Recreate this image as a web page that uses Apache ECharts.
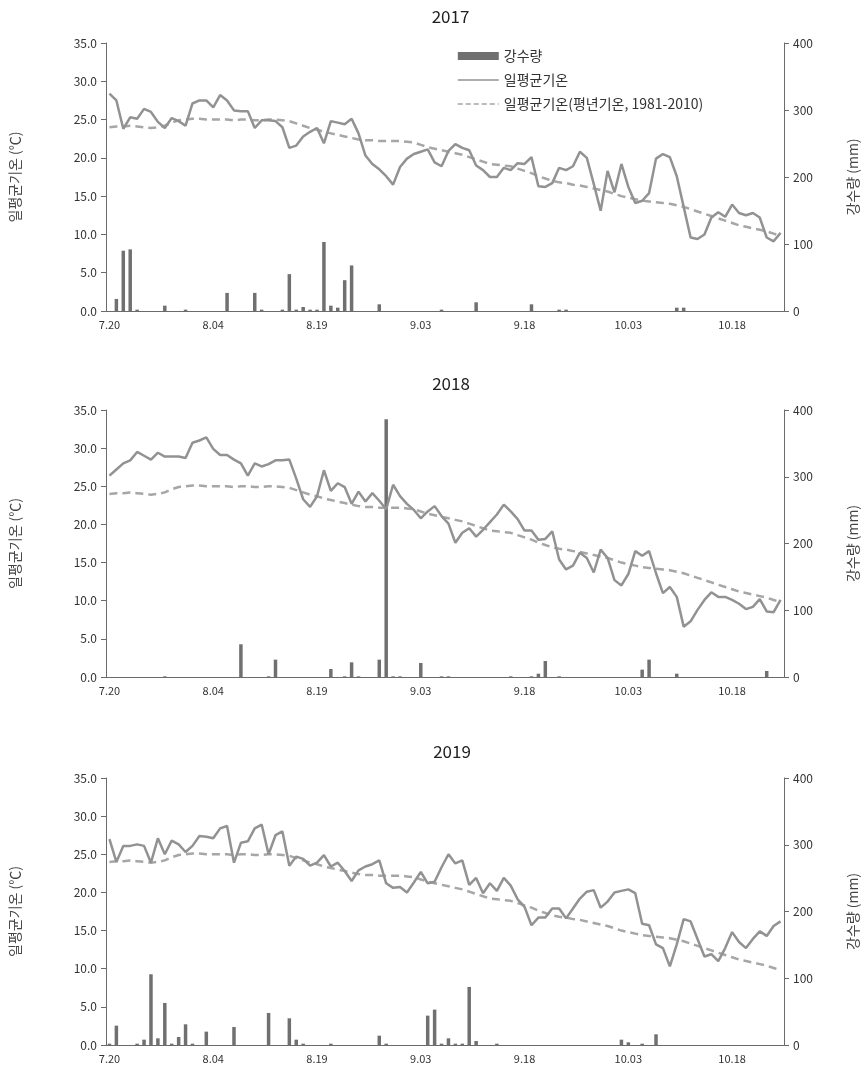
<!DOCTYPE html>
<html><head><meta charset="utf-8">
<script src="https://cdn.jsdelivr.net/npm/echarts@6/dist/echarts.min.js"></script>
<style>html,body{margin:0;padding:0;background:#fff}#c{width:868px;height:1072px}</style>
</head><body><div id="c"></div>
<script>
const dates = ['7.20','7.21','7.22','7.23','7.24','7.25','7.26','7.27','7.28','7.29','7.30','7.31',
'8.01','8.02','8.03','8.04','8.05','8.06','8.07','8.08','8.09','8.10','8.11','8.12','8.13','8.14','8.15','8.16','8.17','8.18','8.19','8.20','8.21','8.22','8.23','8.24','8.25','8.26','8.27','8.28','8.29','8.30','8.31',
'9.01','9.02','9.03','9.04','9.05','9.06','9.07','9.08','9.09','9.10','9.11','9.12','9.13','9.14','9.15','9.16','9.17','9.18','9.19','9.20','9.21','9.22','9.23','9.24','9.25','9.26','9.27','9.28','9.29','9.30',
'10.01','10.02','10.03','10.04','10.05','10.06','10.07','10.08','10.09','10.10','10.11','10.12','10.13','10.14','10.15','10.16','10.17','10.18','10.19','10.20','10.21','10.22','10.23','10.24','10.25'];

const years = ['2017','2018','2019'];
const leftTicks = [0,5,10,15,20,25,30,35];
const rightTicks = [0,100,200,300,400];

const normalTemp = [24.0,24.1,24.1,24.2,24.1,24.0,23.9,24.0,24.2,24.6,
24.9,25.0,25.1,25.1,25.0,25.0,25.0,25.0,24.9,25.0,
25.0,24.9,24.9,25.0,25.0,24.9,24.8,24.5,24.2,23.9,
23.7,23.4,23.2,23.0,22.8,22.6,22.4,22.3,22.3,22.2,
22.2,22.2,22.2,22.1,22.0,21.7,21.4,21.2,21.0,20.8,
20.6,20.4,20.1,19.8,19.5,19.2,19.1,19.0,18.9,18.6,
18.3,18.0,17.6,17.3,17.0,16.8,16.7,16.5,16.4,16.2,
16.0,15.8,15.6,15.3,15.0,14.8,14.6,14.4,14.3,14.2,
14.1,14.0,13.8,13.6,13.3,13.0,12.7,12.4,12.1,11.8,
11.5,11.2,11.0,10.8,10.6,10.4,10.1,9.8];

const temp2017 = [28.4,27.5,23.8,25.3,25.1,26.4,26.0,24.7,23.9,25.2,
24.8,24.2,27.1,27.5,27.5,26.6,28.2,27.5,26.2,26.1,
26.1,23.9,24.9,24.9,24.8,24.0,21.3,21.6,22.8,23.4,
23.9,21.9,24.8,24.6,24.4,25.1,23.2,20.3,19.2,18.5,
17.6,16.5,18.8,19.9,20.5,20.8,21.1,19.4,18.9,20.9,
21.8,21.3,21.0,19.0,18.4,17.5,17.5,18.7,18.4,19.3,
19.2,20.1,16.3,16.2,16.7,18.7,18.4,18.9,20.8,20.0,
16.6,13.1,18.3,15.5,19.2,16.2,14.1,14.4,15.4,19.9,
20.5,20.1,17.6,13.6,9.6,9.4,10.0,12.2,12.9,12.3,
13.9,12.8,12.5,12.8,12.2,9.6,9.1,10.2];

const temp2018 = [26.4,27.2,28.0,28.4,29.5,29.0,28.5,29.4,28.9,28.9,
28.9,28.7,30.7,31.0,31.4,29.9,29.1,29.1,28.5,28.0,
26.4,28.0,27.6,27.9,28.4,28.4,28.5,26.0,23.3,22.3,
23.7,27.1,24.4,25.4,24.9,22.7,24.3,23.0,24.1,23.1,
22.0,25.2,23.7,22.7,21.9,20.8,21.7,22.4,21.1,20.1,
17.6,18.9,19.5,18.4,19.3,20.3,21.3,22.6,21.7,20.7,
19.2,19.2,18.0,18.1,19.1,15.4,14.1,14.6,16.3,15.6,
13.7,16.7,15.6,12.7,12.0,13.5,16.5,15.9,16.5,13.6,
11.0,11.8,10.5,6.6,7.3,8.8,10.1,11.1,10.5,10.5,
10.1,9.6,8.9,9.2,10.2,8.6,8.5,10.1];

const temp2019 = [27.0,24.0,26.1,26.1,26.3,26.1,23.9,27.1,25.0,26.8,
26.3,25.3,26.1,27.4,27.3,27.1,28.4,28.7,23.9,26.5,
26.7,28.4,28.9,25.0,27.5,28.0,23.5,24.7,24.4,23.5,
23.9,24.9,23.4,23.9,22.8,21.5,22.9,23.4,23.7,24.2,
21.2,20.6,20.7,20.0,21.3,22.7,21.2,21.4,23.3,25.0,
23.8,24.2,21.0,21.9,19.9,21.2,20.2,21.9,20.9,19.1,
18.1,15.7,16.7,16.7,17.9,17.9,16.6,17.9,19.2,20.1,
20.3,18.0,18.8,20.0,20.2,20.4,19.9,15.9,15.7,13.2,
12.7,10.3,13.2,16.5,16.2,13.9,11.6,11.9,11.0,12.7,
14.8,13.5,12.7,13.9,14.9,14.3,15.6,16.2];

const rain2017 = [0,18,90,92,2,0,0,0,8,0,
0,2,0,0,0,0,0,27,0,0,
0,27,2,0,0,2,55,2,6,2,
2,103,8,5,46,68,0,0,0,10,
0,0,0,0,0,0,0,0,2,0,
0,0,0,13,0,0,0,0,0,0,
0,10,0,0,0,2,2,0,0,0,
0,0,0,0,0,0,0,0,0,0,
0,0,5,5,0,0,0,0,0,0,
0,0,0,0,0,0,0,0];

const rain2018 = [0,0,0,0,0,0,0,0,1,0,
0,0,0,0,0,0,0,0,0,49,
0,0,0,1,26,0,0,0,0,0,
0,0,12,0,1,22,1,0,0,26,
386,1,1,0,0,21,0,0,1,1,
0,0,0,0,0,0,0,0,1,0,
0,1,5,24,0,1,0,0,0,0,
0,0,0,0,0,0,0,11,26,0,
0,0,5,0,0,0,0,0,0,0,
0,0,0,0,0,9,0,0];

const rain2019 = [2,29,0,0,2,8,106,10,63,2,
12,31,2,0,20,0,0,0,27,0,
0,0,0,48,0,0,40,8,2,0,
0,0,2,0,0,0,0,0,0,14,
2,0,0,0,0,0,44,53,2,10,
2,2,87,6,0,0,2,0,0,0,
0,0,0,0,0,0,0,0,0,0,
0,0,0,0,8,4,0,2,0,16,
0,0,0,0,0,0,0,0,0,0,
0,0,0,0,0,0,0,0];

const temps = [temp2017, temp2018, temp2019];
const rains = [rain2017, rain2018, rain2019];

const FONT = '"Noto Sans CJK KR", "Noto Sans", sans-serif';
const AX = '#6b6b6b';
const LBL = '#333';
const NAME_BAR = '강수량';
const NAME_T = '일평균기온';
const NAME_N = '일평균기온(평년기온, 1981-2010)';

const grids = [
  {left: 103, right: 80, top: 43, height: 268},
  {left: 104, right: 80, top: 410, height: 267},
  {left: 106, right: 80, top: 778, height: 267}
];

const hiddenSymbol = {color: 'rgba(0,0,0,0)', borderColor: 'rgba(0,0,0,0)', borderWidth: 0, opacity: 0};

const option = {
  animation: false,
  textStyle: {fontFamily: FONT},
  title: years.map((y, i) => ({
    text: y, left: (grids[i].left + 868 - grids[i].right) / 2, top: grids[i].top - 40,
    textAlign: 'center',
    textStyle: {fontSize: 17, fontWeight: 'normal', color: '#222', fontFamily: FONT}
  })),
  legend: {
    orient: 'vertical', left: 452, top: 44, itemWidth: 41, itemHeight: 8, itemGap: 10,
    textStyle: {fontSize: 14, color: '#333', fontFamily: FONT},
    data: [
      {name: NAME_BAR, icon: 'rect'},
      {name: NAME_T, itemStyle: hiddenSymbol, lineStyle: {width: 1.6}},
      {name: NAME_N, itemStyle: hiddenSymbol, lineStyle: {width: 1.6, type: [5, 3]}}
    ]
  },
  grid: grids,
  xAxis: grids.map((g, i) => ({
    type: 'category', gridIndex: i, data: dates, boundaryGap: true,
    axisLine: {lineStyle: {color: AX, width: 1}},
    axisTick: {interval: 14, length: 5, lineStyle: {color: AX}},
    axisLabel: {interval: 14, fontSize: 11, color: LBL, margin: 8, fontFamily: FONT},
    splitLine: {show: false}
  })),
  yAxis: [].concat(...grids.map((g, i) => [
    {
      type: 'value', gridIndex: i, min: leftTicks[0], max: leftTicks[leftTicks.length - 1], interval: 5,
      position: 'left',
      name: '일평균기온 (℃)', nameLocation: 'middle', nameGap: 84, nameRotate: 90,
      nameTextStyle: {fontSize: 14, color: '#444', fontFamily: FONT},
      axisLine: {show: true, lineStyle: {color: AX}},
      axisTick: {show: true, length: 5, lineStyle: {color: AX}},
      axisLabel: {fontSize: 12, color: LBL, margin: 9, formatter: v => v.toFixed(1), fontFamily: FONT},
      splitLine: {show: false}
    },
    {
      type: 'value', gridIndex: i, min: rightTicks[0], max: rightTicks[rightTicks.length - 1], interval: 100,
      position: 'right',
      name: '강수량 (mm)', nameLocation: 'middle', nameGap: 62, nameRotate: 90,
      nameTextStyle: {fontSize: 14, color: '#444', fontFamily: FONT},
      axisLine: {show: true, lineStyle: {color: AX}},
      axisTick: {show: true, length: 5, lineStyle: {color: AX}},
      axisLabel: {fontSize: 12, color: LBL, margin: 9, fontFamily: FONT},
      splitLine: {show: false}
    }
  ])),
  series: [].concat(...grids.map((g, i) => [
    {
      name: NAME_BAR, type: 'bar', xAxisIndex: i, yAxisIndex: i * 2 + 1,
      data: rains[i], barWidth: 3.5, itemStyle: {color: '#707070'}, z: 2
    },
    {
      name: NAME_N, type: 'line', xAxisIndex: i, yAxisIndex: i * 2,
      data: normalTemp, symbol: 'none', lineStyle: {color: '#a6a6a6', width: 2.5, type: [8, 5]},
      itemStyle: {color: '#a6a6a6'}, z: 3
    },
    {
      name: NAME_T, type: 'line', xAxisIndex: i, yAxisIndex: i * 2,
      data: temps[i], symbol: 'none', lineStyle: {color: '#929292', width: 2.5},
      itemStyle: {color: '#929292'}, z: 4
    }
  ]))
};

const chart = echarts.init(document.getElementById('c'), null, {renderer: 'canvas'});
chart.setOption(option);
</script></body></html>
